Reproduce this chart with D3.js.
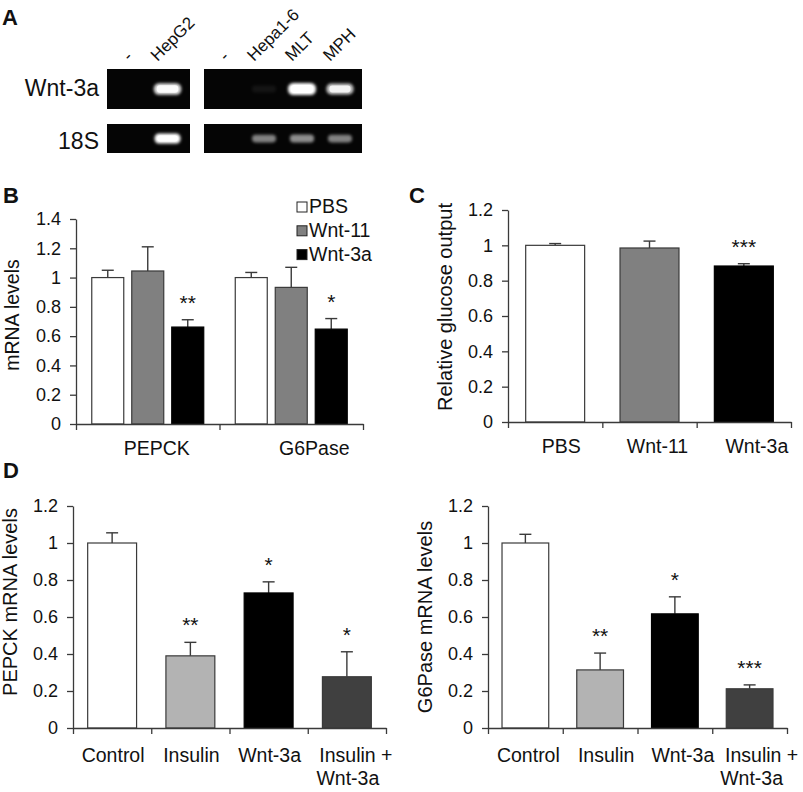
<!DOCTYPE html>
<html>
<head>
<meta charset="utf-8">
<script src="https://cdn.jsdelivr.net/npm/d3@7/dist/d3.min.js"></script>
<style>
  html, body { margin: 0; padding: 0; background: #fff; }
  svg { display: block; }
  text { font-family: "Liberation Sans", Arial, Helvetica, sans-serif; fill: #111; }
</style>
</head>
<body>
<svg id="fig" width="803" height="792"></svg>
<script>
// ---------------- DATA ----------------
// Panel A (RT-PCR gel)
const gelLeftLanes = ["-", "HepG2"];
const gelRightLanes = ["-", "Hepa1-6", "MLT", "MPH"];
const gelRows = ["Wnt-3a", "18S"];
const gelWnt3aLeft = [0, 0.88];
const gelWnt3aRight = [0, 0.06, 1.0, 0.78];
const gel18SLeft = [0, 1.0];
const gel18SRight = [0, 0.5, 0.55, 0.5];

// Panel B
const bGroups = ["PEPCK", "G6Pase"];
const bSeries = ["PBS", "Wnt-11", "Wnt-3a"];
const bPBS = [1.00, 1.00];
const bPBSErr = [0.05, 0.035];
const bWnt11 = [1.045, 0.933];
const bWnt11Err = [0.165, 0.137];
const bWnt3a = [0.662, 0.648];
const bWnt3aErr = [0.05, 0.072];
const bWnt3aStars = ["**", "*"];
const bTicks = [0, 0.2, 0.4, 0.6, 0.8, 1, 1.2, 1.4];

// Panel C
const cCats = ["PBS", "Wnt-11", "Wnt-3a"];
const cValues = [1.00, 0.985, 0.883];
const cErr = [0.01, 0.039, 0.013];
const cStars = ["", "", "***"];
const cTicks = [0, 0.2, 0.4, 0.6, 0.8, 1, 1.2];

// Panel D
const dCats = ["Control", "Insulin", "Wnt-3a", "Insulin +|Wnt-3a"];
const dPepck = [1.00, 0.39, 0.73, 0.277];
const dPepckErr = [0.055, 0.073, 0.06, 0.135];
const dPepckStars = ["", "**", "*", "*"];
const dG6pase = [1.00, 0.314, 0.617, 0.212];
const dG6paseErr = [0.047, 0.091, 0.092, 0.021];
const dG6paseStars = ["", "**", "*", "***"];
const dTicks = [0, 0.2, 0.4, 0.6, 0.8, 1, 1.2];

// ---------------- STYLE ----------------
const FONT = '"Liberation Sans", Arial, Helvetica, sans-serif';
const strokeCol = "#3a3a3a";
const seriesFill = { "PBS": "#ffffff", "Wnt-11": "#808080", "Wnt-3a": "#000000" };
const dFill = ["#ffffff", "#b3b3b3", "#000000", "#404040"];
const fmt = d => String(+d.toFixed(1));

const svg = d3.select("#fig");

// blur filter for gel bands
const defs = svg.append("defs");
defs.append("filter").attr("id", "glow").attr("x", "-50%").attr("y", "-100%").attr("width", "200%").attr("height", "300%")
  .append("feGaussianBlur").attr("stdDeviation", 1.6);

function panelLabel(t, x, y) {
  svg.append("text").attr("x", x).attr("y", y).attr("font-size", 22).attr("font-weight", "bold").text(t);
}

// ---------------- PANEL A ----------------
panelLabel("A", 2, 25);
(function () {
  const g = svg.append("g");
  const rowY = d3.scaleOrdinal().domain(gelRows).range([[69, 109], [124, 153]]);
  const boxes = [
    { lanes: gelLeftLanes, range: [107, 190], pad: 0.59, vals: [gelWnt3aLeft, gel18SLeft] },
    { lanes: gelRightLanes, range: [204, 362], pad: 0.58, vals: [gelWnt3aRight, gel18SRight] }
  ];
  boxes.forEach(b => {
    const xs = d3.scalePoint().domain(d3.range(b.lanes.length)).range(b.range).padding(b.pad);
    gelRows.forEach((row, ri) => {
      const [y0, y1] = rowY(row);
      g.append("rect").attr("x", b.range[0]).attr("y", y0).attr("width", b.range[1] - b.range[0]).attr("height", y1 - y0).attr("fill", "#050505");
      const cy = (y0 + y1) / 2;
      const baseH = ri === 0 ? 12 : 10;
      const baseW = ri === 0 ? 28 : 26;
      b.vals[ri].forEach((v, i) => {
        if (v <= 0) return;
        const h = baseH * (0.55 + 0.45 * v);
        const w = baseW * (0.85 + 0.15 * v);
        g.append("rect").attr("x", xs(i) - w / 2).attr("y", cy - h / 2).attr("width", w).attr("height", h)
          .attr("rx", h / 2.2).attr("fill", "#ffffff").attr("opacity", Math.min(1, v)).attr("filter", "url(#glow)");
        if (v > 0.7) {
          g.append("rect").attr("x", xs(i) - w / 2 + 3).attr("y", cy - h / 2 + 2).attr("width", w - 6).attr("height", h - 4)
            .attr("rx", (h - 4) / 2.2).attr("fill", "#ffffff").attr("opacity", v);
        }
      });
    });
    b.lanes.forEach((lab, i) => {
      const ax = xs(i) + (lab === "-" ? 0 : -10);
      g.append("text").attr("transform", `translate(${ax},62) rotate(-45)`).attr("font-size", 17).text(lab);
    });
  });
  g.append("text").attr("x", 99).attr("y", 96).attr("text-anchor", "end").attr("font-size", 23).text(gelRows[0]);
  g.append("text").attr("x", 99).attr("y", 149).attr("text-anchor", "end").attr("font-size", 23).text(gelRows[1]);
})();

// ---------------- helpers ----------------
function yAxis(g, y, ticks, x0) {
  const ax = g.append("g").attr("transform", `translate(${x0},0)`)
    .call(d3.axisLeft(y).tickValues(ticks).tickFormat(fmt).tickSize(6).tickSizeOuter(0).tickPadding(9));
  ax.select(".domain").attr("stroke", strokeCol).attr("stroke-width", 1.3);
  ax.selectAll(".tick line").attr("stroke", strokeCol).attr("stroke-width", 1.3);
  ax.selectAll(".tick text").attr("font-family", FONT).attr("font-size", 18).attr("fill", "#1a1a1a");
}
function xAxis(g, n, x0, x1, y0) {
  const lin = d3.scaleLinear().domain([0, n]).range([x0, x1]);
  const ax = g.append("g").attr("transform", `translate(0,${y0})`)
    .call(d3.axisBottom(lin).tickValues(d3.range(n + 1)).tickFormat("").tickSize(6).tickSizeOuter(0));
  ax.select(".domain").attr("stroke", strokeCol).attr("stroke-width", 1.3);
  ax.selectAll(".tick line").attr("stroke", strokeCol).attr("stroke-width", 1.3);
}
function errBar(g, cx, yTop, yBar, cap) {
  g.append("line").attr("x1", cx).attr("x2", cx).attr("y1", yBar).attr("y2", yTop).attr("stroke", strokeCol).attr("stroke-width", 1.4);
  g.append("line").attr("x1", cx - cap / 2).attr("x2", cx + cap / 2).attr("y1", yTop).attr("y2", yTop).attr("stroke", strokeCol).attr("stroke-width", 1.4);
}
function star(g, cx, yTop, s) {
  if (!s) return;
  g.append("text").attr("x", cx).attr("y", yTop - 10).attr("text-anchor", "middle").attr("font-size", 21).attr("fill", "#222").text(s);
}
function yLabel(g, t, x, y, size) {
  g.append("text").attr("transform", `translate(${x},${y}) rotate(-90)`).attr("text-anchor", "middle").attr("font-size", size).text(t);
}

// ---------------- PANEL B ----------------
panelLabel("B", 3, 203);
(function () {
  const g = svg.append("g");
  const x0 = 76, x1 = 363, yb = 424, yt = 219;
  const y = d3.scaleLinear().domain([0, 1.4]).range([yb, yt]);
  const xg = d3.scaleBand().domain(bGroups).range([x0, x1]);
  const xs = d3.scaleBand().domain(bSeries).range([0, xg.bandwidth()]).paddingInner(0.2).paddingOuter(0.394);
  const vals = { "PBS": bPBS, "Wnt-11": bWnt11, "Wnt-3a": bWnt3a };
  const errs = { "PBS": bPBSErr, "Wnt-11": bWnt11Err, "Wnt-3a": bWnt3aErr };
  bGroups.forEach((grp, gi) => {
    bSeries.forEach(s => {
      const v = vals[s][gi], e = errs[s][gi];
      const bx = xg(grp) + xs(s), cx = bx + xs.bandwidth() / 2;
      errBar(g, cx, y(v + e), y(v), 12);
      g.append("rect").attr("x", bx).attr("y", y(v)).attr("width", xs.bandwidth()).attr("height", yb - y(v))
        .attr("fill", seriesFill[s]).attr("stroke", s === "Wnt-3a" ? "#000" : strokeCol).attr("stroke-width", 1.2);
      if (s === "Wnt-3a") star(g, cx, y(v + e), bWnt3aStars[gi]);
    });
  });
  yAxis(g, y, bTicks, x0);
  xAxis(g, bGroups.length, x0, x1, yb);
  const dx = [9, 23];
  bGroups.forEach((grp, gi) => {
    g.append("text").attr("x", xg(grp) + xg.bandwidth() / 2 + dx[gi]).attr("y", 455).attr("text-anchor", "middle").attr("font-size", 19.5).text(grp);
  });
  yLabel(g, "mRNA levels", 19, 315, 19.5);
  // legend
  const lg = g.append("g");
  bSeries.forEach((s, i) => {
    const ly = 212 + i * 23.8;
    lg.append("rect").attr("x", 297).attr("y", ly - 10).attr("width", 10).attr("height", 10)
      .attr("fill", seriesFill[s]).attr("stroke", "#222").attr("stroke-width", 1);
    lg.append("text").attr("x", 309).attr("y", ly + 1).attr("font-size", 19.5).text(s);
  });
})();

// ---------------- PANEL C ----------------
panelLabel("C", 409, 203);
(function () {
  const g = svg.append("g");
  const x0 = 508, x1 = 791, yb = 422, yt = 210;
  const y = d3.scaleLinear().domain([0, 1.2]).range([yb, yt]);
  const x = d3.scaleBand().domain(cCats).range([x0, x1]).paddingInner(0.375).paddingOuter(0.1875);
  cCats.forEach((c, i) => {
    const v = cValues[i], e = cErr[i], cx = x(c) + x.bandwidth() / 2;
    errBar(g, cx, y(v + e), y(v), 12);
    g.append("rect").attr("x", x(c)).attr("y", y(v)).attr("width", x.bandwidth()).attr("height", yb - y(v))
      .attr("fill", seriesFill[c]).attr("stroke", c === "Wnt-3a" ? "#000" : strokeCol).attr("stroke-width", 1.2);
    star(g, cx, y(v + e), cStars[i]);
  });
  yAxis(g, y, cTicks, x0);
  xAxis(g, cCats.length, x0, x1, yb);
  const dx = [6, 8, 13];
  cCats.forEach((c, i) => {
    g.append("text").attr("x", x(c) + x.bandwidth() / 2 + dx[i]).attr("y", 453).attr("text-anchor", "middle").attr("font-size", 19.5).text(c);
  });
  yLabel(g, "Relative glucose output", 452, 307, 20);
})();

// ---------------- PANEL D ----------------
panelLabel("D", 3, 478);
function panelD(values, errs, stars, x0, x1, ylab, ylx, yly, dx1, dx2) {
  const g = svg.append("g");
  const yb = 728, yt = 506;
  const y = d3.scaleLinear().domain([0, 1.2]).range([yb, yt]);
  const x = d3.scaleBand().domain(dCats).range([x0, x1]).paddingInner(0.375).paddingOuter(0.1875);
  dCats.forEach((c, i) => {
    const v = values[i], e = errs[i], cx = x(c) + x.bandwidth() / 2;
    errBar(g, cx, y(v + e), y(v), 12);
    g.append("rect").attr("x", x(c)).attr("y", y(v)).attr("width", x.bandwidth()).attr("height", yb - y(v))
      .attr("fill", dFill[i]).attr("stroke", i === 2 ? "#000" : strokeCol).attr("stroke-width", 1.2);
    star(g, cx, y(v + e), stars[i]);
  });
  yAxis(g, y, dTicks, x0);
  xAxis(g, dCats.length, x0, x1, yb);
  dCats.forEach((c, i) => {
    const lines = c.split("|");
    const cx = x(c) + x.bandwidth() / 2;
    lines.forEach((ln, li) => {
      g.append("text").attr("x", cx + (li === 0 ? dx1[i] : dx2)).attr("y", 762 + li * 23).attr("text-anchor", "middle").attr("font-size", 19.5).text(ln);
    });
  });
  yLabel(g, ylab, ylx, yly, 20);
}
panelD(dPepck, dPepckErr, dPepckStars, 73, 386, "PEPCK mRNA levels", 17, 602, [1, 1, 1, 9], 1);
panelD(dG6pase, dG6paseErr, dG6paseStars, 488, 787, "G6Pase mRNA levels", 432, 617, [3, 6, 8, 12], 2);
</script>
</body>
</html>
